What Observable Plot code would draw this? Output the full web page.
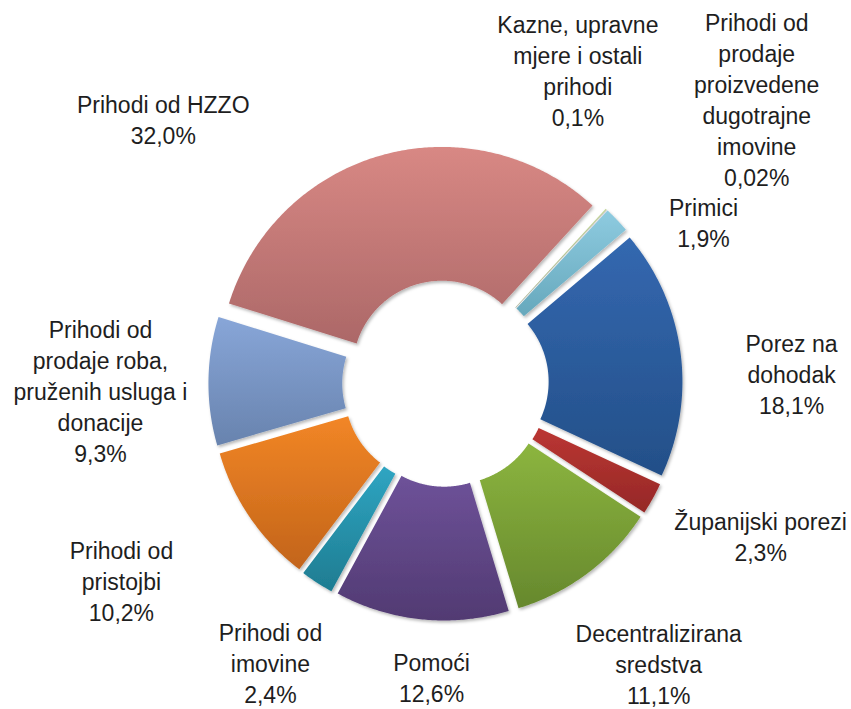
<!DOCTYPE html>
<html>
<head>
<meta charset="utf-8">
<script src="https://cdn.jsdelivr.net/npm/d3@7"></script>
<script src="https://cdn.jsdelivr.net/npm/@observablehq/plot@0.6"></script>
<style>
  html, body { margin: 0; padding: 0; background: #ffffff; }
  #chart { width: 851px; height: 709px; }
</style>
</head>
<body>
<div id="chart"></div>
<script>
// ---- Data ----
const categories = [
  "Kazne, upravne\nmjere i ostali\nprihodi",
  "Prihodi od\nprodaje\nproizvedene\ndugotrajne\nimovine",
  "Primici",
  "Porez na\ndohodak",
  "Županijski porezi",
  "Decentralizirana\nsredstva",
  "Pomoći",
  "Prihodi od\nimovine",
  "Prihodi od\npristojbi",
  "Prihodi od\nprodaje roba,\npruženih usluga i\ndonacije",
  "Prihodi od HZZO"
];
const shares = [0.1, 0.02, 1.9, 18.1, 2.3, 11.1, 12.6, 2.4, 10.2, 9.3, 32.0];
const shareLabels = ["0,1%", "0,02%", "1,9%", "18,1%", "2,3%", "11,1%", "12,6%", "2,4%", "10,2%", "9,3%", "32,0%"];

// ---- Styles ----
const colorsTop    = ["#C4D79B", "#B3A2C7", "#8ECBE0", "#3468B0", "#BB3632", "#8CB53F", "#6E5299", "#2FA5C2", "#F28626", "#88A6D8", "#D88884"];
const colorsBottom = ["#A2B580", "#9383A8", "#66A8BC", "#234F88", "#952827", "#66882D", "#513A72", "#1E7C91", "#C2641A", "#6883AE", "#AC6868"];

// ---- Layout ----
const W = 851, H = 709;
const radiusPx = 223, centerX = 445, centerY = 383;
const startAngle = 42.5;   // degrees, clockwise from 12 o'clock
const holeRatio = 0.40;
const explode = 0.063;
// label placement (polar, clockwise degrees from 12 o'clock; radius in units of outer radius)
const labelAngle  = [23.1, 47.9, 58.5, 89.0, 116.35, 143.1, 182.7, 211.8, 238.2, 268.2, 312.8];
const labelRadius = [1.513, 1.881, 1.357, 1.552, 1.577, 1.592, 1.334, 1.490, 1.710, 1.548, 1.725];

// ---- Build slice outlines from the shares ----
const total = d3.sum(shares);
const rad = Math.PI / 180;
const slicePoints = [];
let acc = startAngle;
shares.forEach((v, i) => {
  const span = v / total * 360;
  const a0 = acc, a1 = acc + span;
  acc = a1;
  const mid = (a0 + a1) / 2 * rad;
  const ox = explode * Math.sin(mid), oy = explode * Math.cos(mid);
  const n = Math.max(2, Math.ceil(span / 0.5) + 1);
  const outer = [], inner = [];
  for (let k = 0; k < n; k++) {
    const a = (a0 + (a1 - a0) * k / (n - 1)) * rad;
    outer.push({name: categories[i], x: ox + Math.sin(a), y: oy + Math.cos(a)});
    inner.push({name: categories[i], x: ox + holeRatio * Math.sin(a), y: oy + holeRatio * Math.cos(a)});
  }
  slicePoints.push(...outer, ...inner.reverse());
});

const labels = categories.map((c, i) => ({
  x: labelRadius[i] * Math.sin(labelAngle[i] * rad),
  y: labelRadius[i] * Math.cos(labelAngle[i] * rad),
  text: c + "\n" + shareLabels[i]
}));

const chart = Plot.plot({
  width: W,
  height: H,
  margin: 0,
  style: {background: "#ffffff", fontFamily: "'Liberation Sans', Arial, sans-serif"},
  x: {domain: [-centerX / radiusPx, (W - centerX) / radiusPx], axis: null},
  y: {domain: [-(H - centerY) / radiusPx, centerY / radiusPx], axis: null},
  color: {type: "ordinal", domain: categories, range: categories.map((_, i) => `url(#sliceGrad${i})`)},
  marks: [
    Plot.line(slicePoints, {
      x: "x", y: "y", z: "name", fill: "name",
      stroke: "none", curve: "linear-closed"
    }),
    Plot.text(labels, {
      x: "x", y: "y", text: "text",
      fontSize: 23, lineHeight: 1.35, fill: "#1e1e1e",
      textAnchor: "middle", dy: -4
    })
  ]
});

// gradients + soft shadow definitions
const svg = d3.select(chart);
const defs = svg.insert("defs", ":first-child");
categories.forEach((_, i) => {
  const g = defs.append("linearGradient")
    .attr("id", `sliceGrad${i}`)
    .attr("x1", 0).attr("y1", 0).attr("x2", 0).attr("y2", 1);
  g.append("stop").attr("offset", "0%").attr("stop-color", colorsTop[i]);
  g.append("stop").attr("offset", "100%").attr("stop-color", colorsBottom[i]);
});
const f = defs.append("filter").attr("id", "sliceShadow")
  .attr("x", "-10%").attr("y", "-10%").attr("width", "120%").attr("height", "120%");
f.append("feDropShadow").attr("dx", 1.5).attr("dy", 2).attr("stdDeviation", 1.5)
  .attr("flood-color", "#000").attr("flood-opacity", 0.28);
svg.selectAll("g[aria-label='line'] path").attr("filter", "url(#sliceShadow)");

document.getElementById("chart").appendChild(chart);
</script>
</body>
</html>
